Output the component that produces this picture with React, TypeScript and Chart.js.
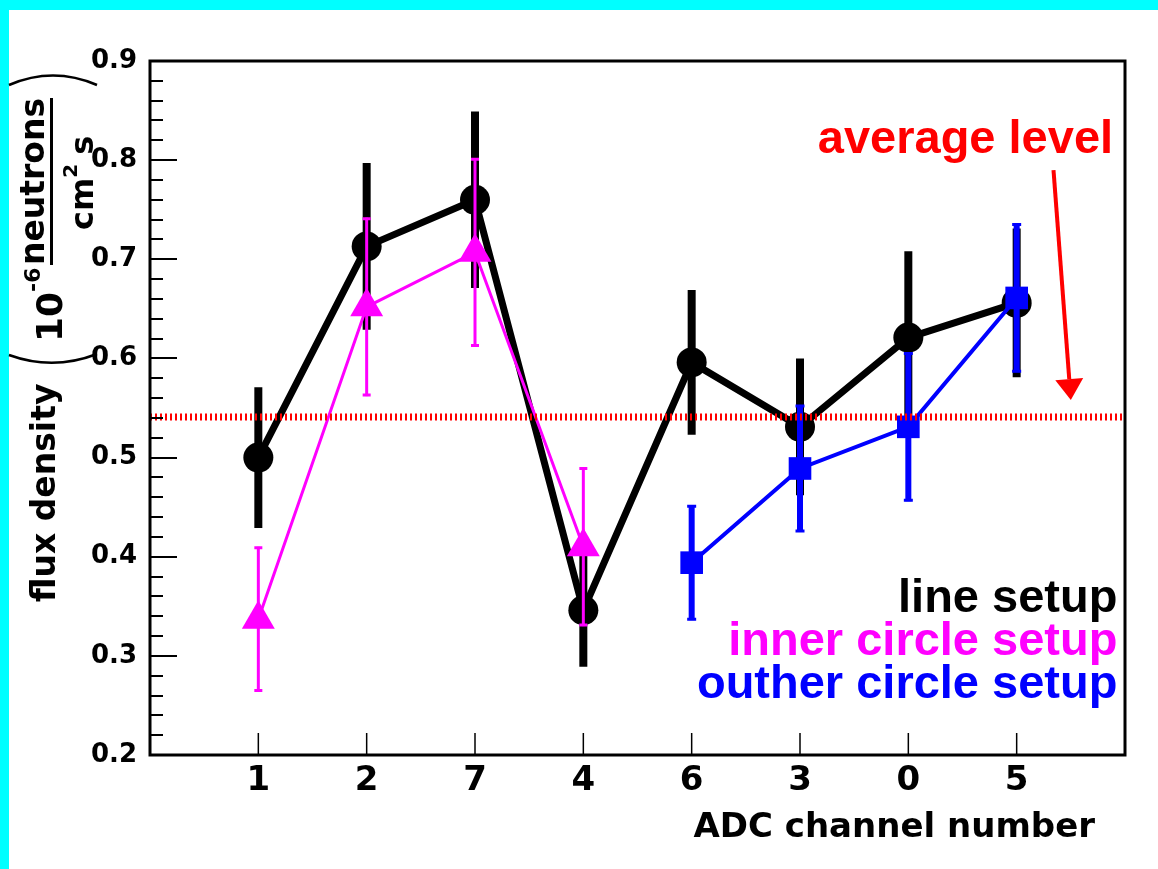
import React, { useEffect, useRef } from "react";
import { Chart, registerables } from "chart.js";

Chart.register(...registerables);

// ---------- data ----------
const channels = ["1", "2", "7", "4", "6", "3", "0", "5"];
const lineSetup = [0.5, 0.713, 0.76, 0.346, 0.596, 0.531, 0.621, 0.656];
const lineSetupErr = [0.071, 0.084, 0.089, 0.057, 0.073, 0.069, 0.087, 0.075];
const innerCircle = [0.337, 0.652, 0.707, 0.41, null, null, null, null];
const innerCircleErr = [0.073, 0.09, 0.095, 0.08, null, null, null, null];
const outerCircle = [null, null, null, null, 0.394, 0.489, 0.531, 0.661];
const outerCircleErr = [null, null, null, null, 0.058, 0.064, 0.075, 0.075];
const averageLevel = 0.541;
const yMin = 0.2;
const yMax = 0.9;
const xMin = 0;
const xMax = 9;
const legendNames = ["line setup", "inner circle setup", "outher circle setup"];
const legendColors = ["#000000", "#ff00ff", "#0000ff"];
const legendX = 8.93;
const legendY = [0.3442, 0.3008, 0.2575];
const averageLabel = "average level";
const averageLabelPos = { x: 8.89, y: 0.807 };
const arrowFrom = { x: 8.34, y: 0.79 };
const arrowTo = { x: 8.5, y: 0.558 };

type P = { x: number; y: number; e: number };

function toPoints(vals: (number | null)[], errs: (number | null)[]): P[] {
  const out: P[] = [];
  vals.forEach((v, i) => {
    if (v !== null && v !== undefined) out.push({ x: i + 1, y: v, e: errs[i] ?? 0 });
  });
  return out;
}

function rotText(ctx: CanvasRenderingContext2D, text: string, x: number, y: number) {
  ctx.save();
  ctx.translate(x, y);
  ctx.rotate(-Math.PI / 2);
  ctx.textAlign = "left";
  ctx.textBaseline = "alphabetic";
  ctx.fillText(text, 0, 0);
  ctx.restore();
}

const rootPlugin = {
  id: "rootStyle",
  beforeDraw(chart: any) {
    const ctx = chart.ctx as CanvasRenderingContext2D;
    ctx.save();
    ctx.fillStyle = "#ffffff";
    ctx.fillRect(0, 0, chart.width, chart.height);
    ctx.fillStyle = "#00ffff";
    ctx.fillRect(0, 0, chart.width, 10);
    ctx.fillRect(0, 0, 9, chart.height);
    ctx.restore();
  },
  beforeDatasetDraw(chart: any, args: any) {
    const ds = chart.data.datasets[args.index];
    if (!ds.errors) return;
    const ctx = chart.ctx as CanvasRenderingContext2D;
    const xs = chart.scales.x;
    const ys = chart.scales.y;
    ctx.save();
    ctx.strokeStyle = ds.borderColor;
    ctx.lineCap = "butt";
    (ds.errors as P[]).forEach((p) => {
      const x = xs.getPixelForValue(p.x);
      const y1 = ys.getPixelForValue(p.y + p.e);
      const y2 = ys.getPixelForValue(p.y - p.e);
      ctx.lineWidth = ds.errWidth;
      ctx.beginPath();
      ctx.moveTo(x, y1);
      ctx.lineTo(x, y2);
      ctx.stroke();
      if (ds.capWidth) {
        ctx.lineWidth = 3;
        ctx.beginPath();
        ctx.moveTo(x - ds.capWidth / 2, y1 + 1);
        ctx.lineTo(x + ds.capWidth / 2, y1 + 1);
        ctx.moveTo(x - ds.capWidth / 2, y2 - 1);
        ctx.lineTo(x + ds.capWidth / 2, y2 - 1);
        ctx.stroke();
      }
    });
    ctx.restore();
  },
  afterDatasetsDraw(chart: any) {
    const ctx = chart.ctx as CanvasRenderingContext2D;
    const { left, right, top, bottom } = chart.chartArea;
    const xs = chart.scales.x;
    const ys = chart.scales.y;
    ctx.save();
    ctx.strokeStyle = "#000";
    // y ticks (major + minor)
    ctx.lineWidth = 2;
    for (let k = 0; k <= 35; k++) {
      const v = yMin + k * 0.02;
      const y = Math.round(ys.getPixelForValue(v));
      const len = k % 5 === 0 ? 27 : 13;
      ctx.beginPath();
      ctx.moveTo(left, y);
      ctx.lineTo(left + len, y);
      ctx.stroke();
    }
    // x ticks
    ctx.lineWidth = 1.5;
    channels.forEach((_, i) => {
      const x = xs.getPixelForValue(i + 1);
      ctx.beginPath();
      ctx.moveTo(x, bottom);
      ctx.lineTo(x, bottom - 22);
      ctx.stroke();
    });
    // frame
    ctx.lineWidth = 3;
    ctx.strokeRect(left, top, right - left, bottom - top);
    ctx.restore();
  },
  afterDraw(chart: any) {
    const ctx = chart.ctx as CanvasRenderingContext2D;
    const xs = chart.scales.x;
    const ys = chart.scales.y;
    ctx.save();
    // legend texts
    ctx.font = 'bold 47px "Liberation Sans"';
    ctx.textAlign = "right";
    ctx.textBaseline = "alphabetic";
    legendNames.forEach((name, i) => {
      ctx.fillStyle = legendColors[i];
      ctx.fillText(name, xs.getPixelForValue(legendX), ys.getPixelForValue(legendY[i]));
    });
    // average level label
    ctx.fillStyle = "#ff0000";
    ctx.fillText(averageLabel, xs.getPixelForValue(averageLabelPos.x), ys.getPixelForValue(averageLabelPos.y));
    // arrow
    const x1 = xs.getPixelForValue(arrowFrom.x);
    const y1 = ys.getPixelForValue(arrowFrom.y);
    const x2 = xs.getPixelForValue(arrowTo.x);
    const y2 = ys.getPixelForValue(arrowTo.y);
    const ang = Math.atan2(y2 - y1, x2 - x1);
    const headLen = 21;
    const headHalf = 14;
    const bx = x2 - headLen * Math.cos(ang);
    const by = y2 - headLen * Math.sin(ang);
    ctx.strokeStyle = "#ff0000";
    ctx.lineWidth = 4;
    ctx.beginPath();
    ctx.moveTo(x1, y1);
    ctx.lineTo(bx, by);
    ctx.stroke();
    ctx.beginPath();
    ctx.moveTo(x2, y2);
    ctx.lineTo(bx + headHalf * Math.sin(ang), by - headHalf * Math.cos(ang));
    ctx.lineTo(bx - headHalf * Math.sin(ang), by + headHalf * Math.cos(ang));
    ctx.closePath();
    ctx.fill();

    // x-axis title
    ctx.fillStyle = "#000";
    ctx.font = 'bold 34px "DejaVu Sans"';
    ctx.textAlign = "right";
    ctx.fillText("ADC channel number", 1095, 837);

    // y-axis title (rotated)
    ctx.font = 'bold 33px "DejaVu Sans"';
    rotText(ctx, "flux density", 55, 602);
    ctx.font = 'bold 36px "DejaVu Sans"';
    rotText(ctx, "10", 62, 342);
    ctx.font = 'bold 22px "DejaVu Sans"';
    rotText(ctx, "-6", 40, 292);
    ctx.font = 'bold 33px "DejaVu Sans"';
    const nw = ctx.measureText("neutrons").width;
    rotText(ctx, "neutrons", 44, 181.5 + nw / 2);
    ctx.font = 'bold 32px "DejaVu Sans"';
    rotText(ctx, "cm", 93, 230);
    const cmw = ctx.measureText("cm").width;
    ctx.font = 'bold 20px "DejaVu Sans"';
    rotText(ctx, "2", 77, 230 - cmw);
    const tw = ctx.measureText("2").width;
    ctx.font = 'bold 32px "DejaVu Sans"';
    rotText(ctx, "s", 93, 230 - cmw - tw - 9);
    // fraction bar
    ctx.strokeStyle = "#000";
    ctx.lineWidth = 3;
    ctx.beginPath();
    ctx.moveTo(51.5, 98);
    ctx.lineTo(51.5, 265);
    ctx.stroke();
    // big parentheses
    ctx.lineWidth = 2.5;
    ctx.beginPath();
    ctx.moveTo(9, 355);
    ctx.quadraticCurveTo(53, 371, 97, 354);
    ctx.stroke();
    ctx.beginPath();
    ctx.moveTo(9, 85);
    ctx.quadraticCurveTo(53, 66, 97, 85);
    ctx.stroke();
    ctx.restore();
  },
};

export default function App() {
  const ref = useRef<HTMLCanvasElement | null>(null);
  useEffect(() => {
    if (!ref.current) return;
    const black = toPoints(lineSetup, lineSetupErr);
    const magenta = toPoints(innerCircle, innerCircleErr);
    const blue = toPoints(outerCircle, outerCircleErr);
    const chart = new Chart(ref.current, {
      type: "line",
      data: {
        datasets: [
          {
            label: "average",
            data: [
              { x: xMin, y: averageLevel },
              { x: xMax, y: averageLevel },
            ],
            borderColor: "#ff0000",
            borderWidth: 7,
            borderDash: [2, 3],
            pointRadius: 0,
            order: 0,
          },
          {
            label: legendNames[2],
            data: blue,
            errors: blue,
            errWidth: 6,
            capWidth: 9,
            borderColor: "#0000ff",
            backgroundColor: "#0000ff",
            borderWidth: 4,
            pointStyle: "rect",
            pointRadius: 16,
            pointBorderWidth: 0,
            pointBackgroundColor: "#0000ff",
            order: 1,
          } as any,
          {
            label: legendNames[1],
            data: magenta,
            errors: magenta,
            errWidth: 3,
            capWidth: 8,
            borderColor: "#ff00ff",
            backgroundColor: "#ff00ff",
            borderWidth: 3,
            pointStyle: "triangle",
            pointRadius: 19,
            pointBorderWidth: 0,
            pointBackgroundColor: "#ff00ff",
            order: 2,
          } as any,
          {
            label: legendNames[0],
            data: black,
            errors: black,
            errWidth: 8,
            capWidth: 0,
            borderColor: "#000000",
            backgroundColor: "#000000",
            borderWidth: 7,
            pointStyle: "circle",
            pointRadius: 15,
            pointBorderWidth: 0,
            pointBackgroundColor: "#000000",
            order: 3,
          } as any,
        ],
      },
      options: {
        animation: false,
        responsive: false,
        devicePixelRatio: 1,
        layout: { padding: { top: 61, right: 33, left: 0, bottom: 0 } },
        plugins: { legend: { display: false }, tooltip: { enabled: false } },
        elements: { line: { tension: 0 } },
        scales: {
          x: {
            type: "linear",
            min: xMin,
            max: xMax,
            grid: { display: false, drawTicks: false },
            border: { display: false },
            afterBuildTicks: (s: any) => {
              s.ticks = channels.map((_, i) => ({ value: i + 1 }));
            },
            afterFit: (s: any) => {
              s.height = 114;
            },
            ticks: {
              autoSkip: false,
              maxRotation: 0,
              padding: 6,
              color: "#000",
              font: { family: "DejaVu Sans", size: 34, weight: "bold" },
              callback: (v: any) => channels[Math.round(Number(v)) - 1] ?? "",
            },
          },
          y: {
            type: "linear",
            min: yMin,
            max: yMax,
            grid: { display: false, drawTicks: false },
            border: { display: false },
            afterFit: (s: any) => {
              s.width = 150;
            },
            ticks: {
              stepSize: 0.1,
              padding: 13,
              color: "#000",
              font: { family: "DejaVu Sans", size: 26, weight: "bold" },
              callback: (v: any) => Number(v).toFixed(1),
            },
          },
        },
      } as any,
      plugins: [rootPlugin as any],
    });
    return () => chart.destroy();
  }, []);
  return (
    <div style={{ position: "absolute", left: 0, top: 0, width: 1158, height: 869 }}>
      <canvas ref={ref} width={1158} height={869} style={{ display: "block" }} />
    </div>
  );
}
